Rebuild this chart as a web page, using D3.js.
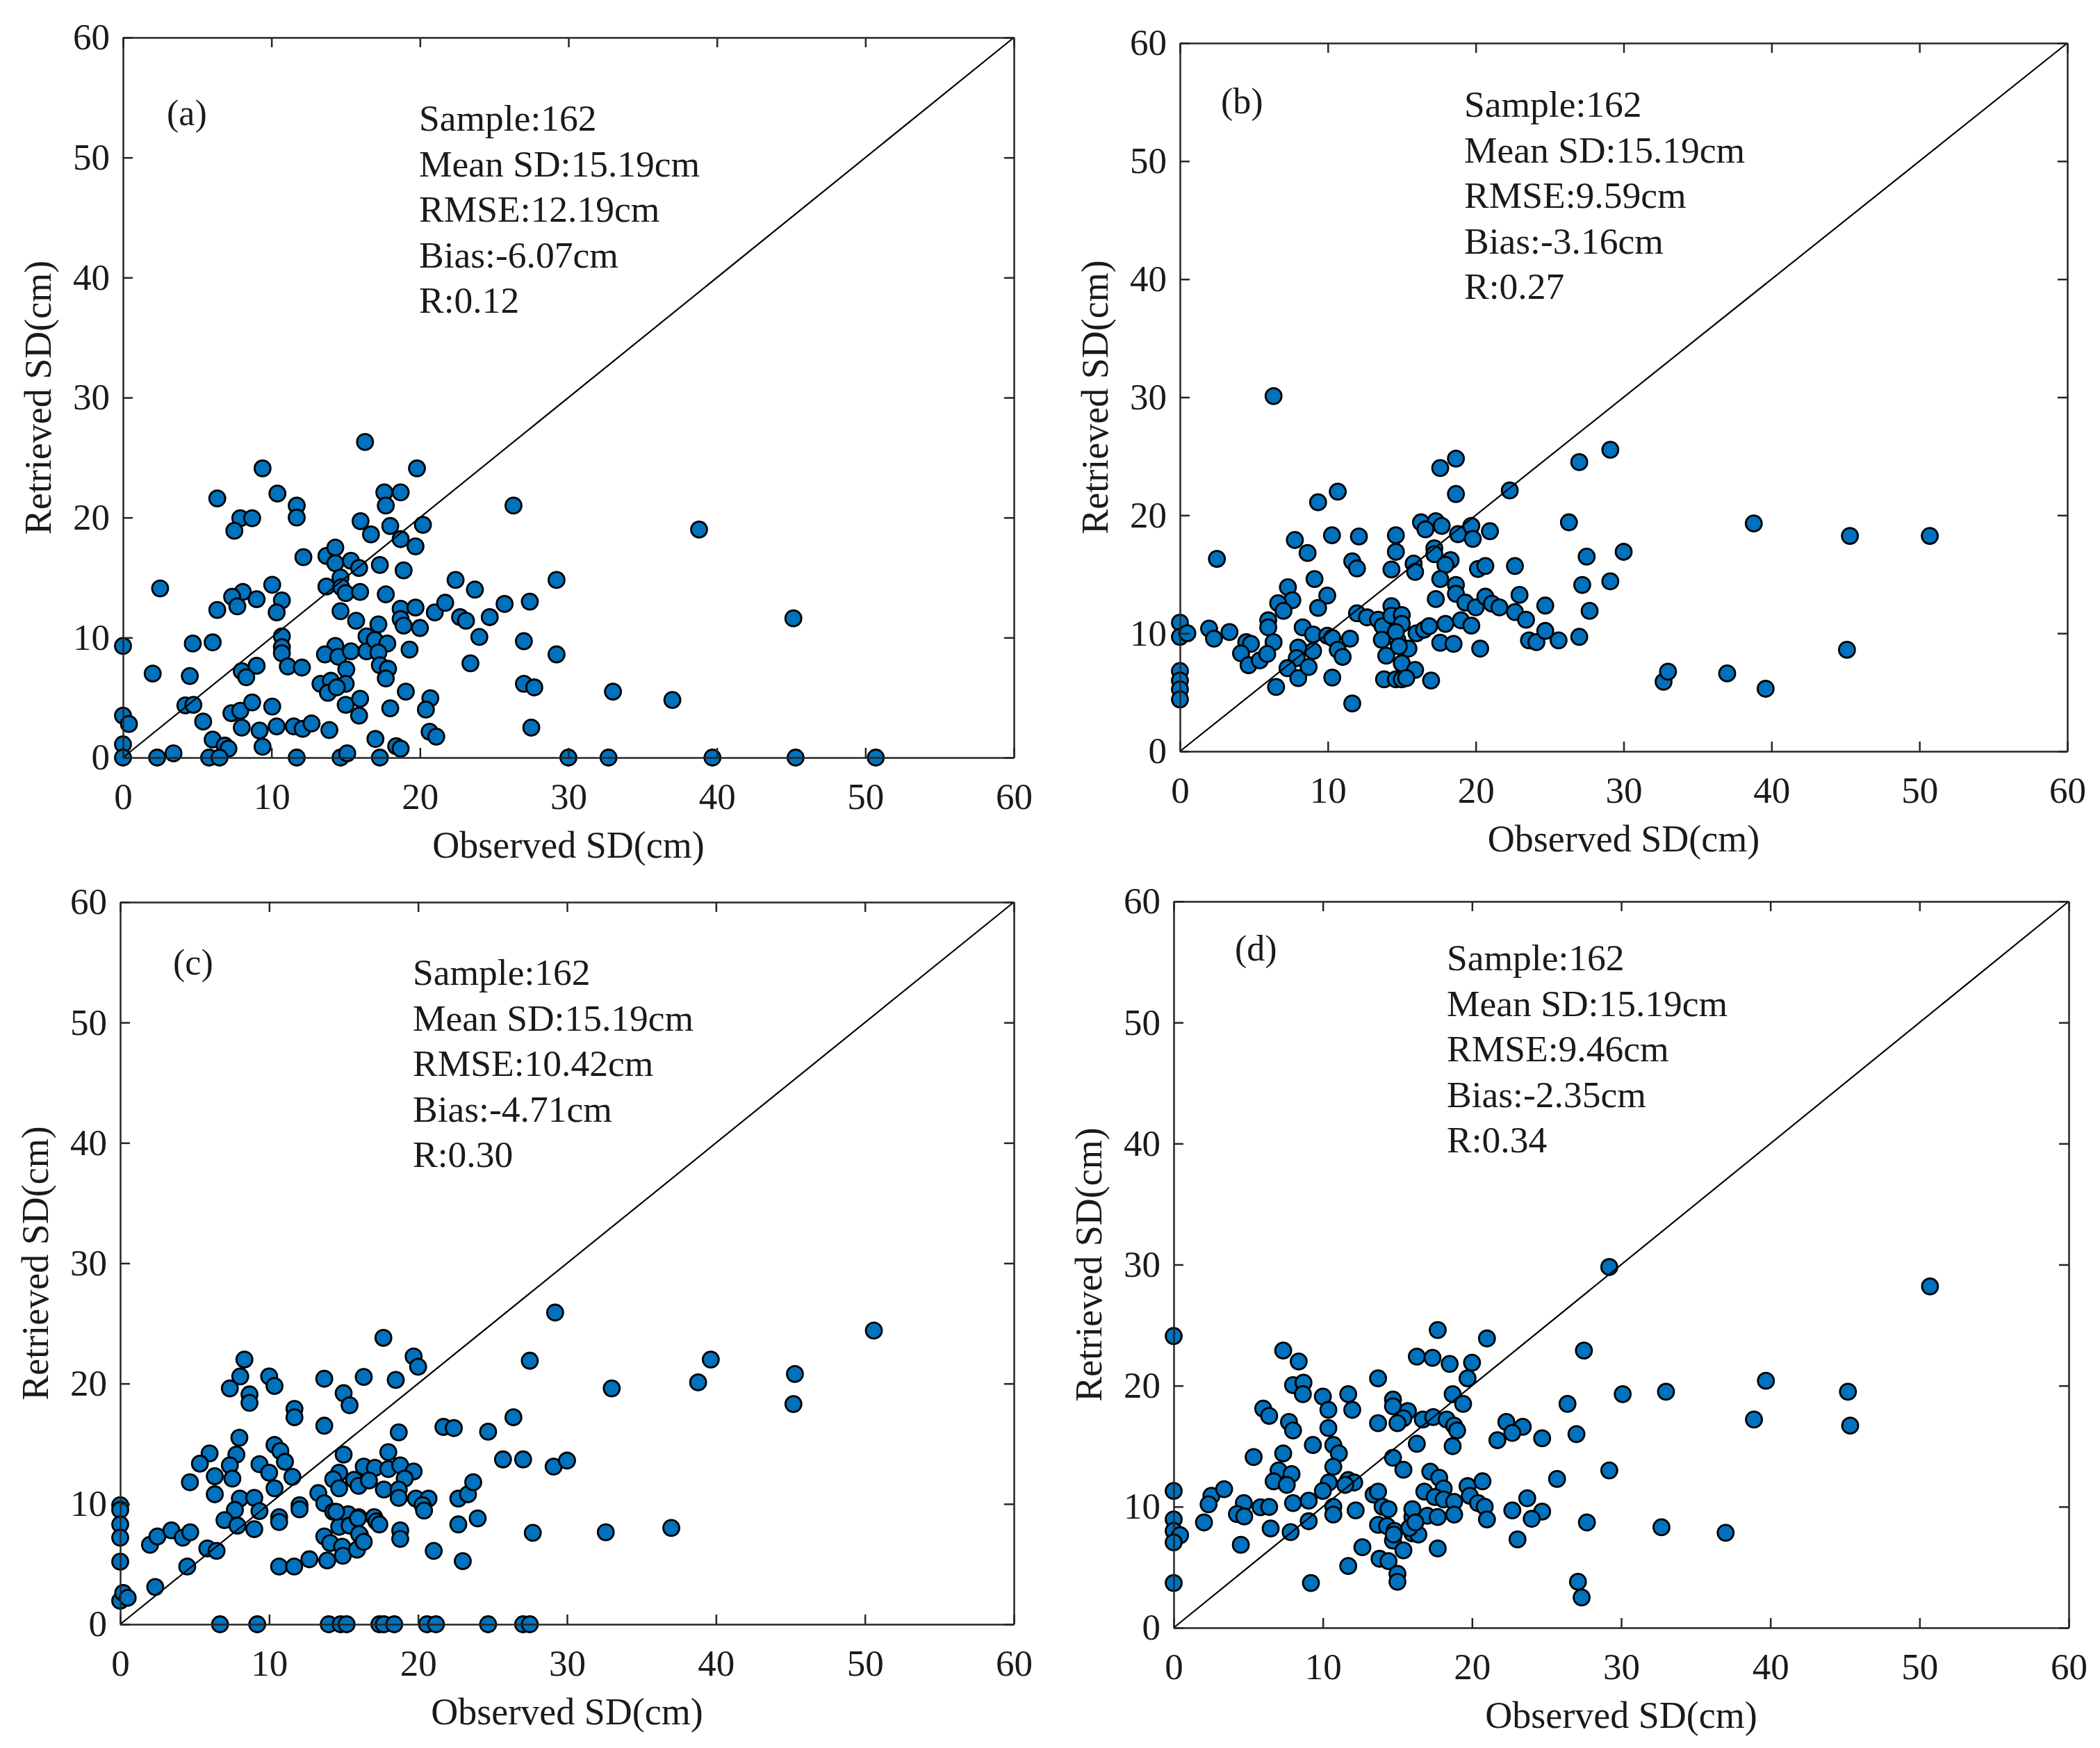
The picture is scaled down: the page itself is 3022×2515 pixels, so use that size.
<!DOCTYPE html>
<html>
<head>
<meta charset="utf-8">
<title>Observed vs retrieved snow depth</title>
<script src="https://cdn.jsdelivr.net/npm/d3@7"></script>
<style>
  body { margin: 0; background: #fff; }
  svg { display: block; }
  text { font-family: "Liberation Serif", "Times New Roman", serif; fill: #1a1a1a; }
</style>
</head>
<body>
<svg id="chart" width="3022" height="2515"></svg>
<script>
// ---- data ----
const axisTicks = [0, 10, 20, 30, 40, 50, 60];
const xTitle = 'Observed SD(cm)';
const yTitle = 'Retrieved SD(cm)';
const panelLabels = ['(a)', '(b)', '(c)', '(d)'];

const statsA = ['Sample:162', 'Mean SD:15.19cm', 'RMSE:12.19cm', 'Bias:-6.07cm', 'R:0.12'];
const statsB = ['Sample:162', 'Mean SD:15.19cm', 'RMSE:9.59cm', 'Bias:-3.16cm', 'R:0.27'];
const statsC = ['Sample:162', 'Mean SD:15.19cm', 'RMSE:10.42cm', 'Bias:-4.71cm', 'R:0.30'];
const statsD = ['Sample:162', 'Mean SD:15.19cm', 'RMSE:9.46cm', 'Bias:-2.35cm', 'R:0.34'];

// [observed, retrieved] pairs
const pointsA = [
  [16.3,26.3],[9.4,24.1],[10.4,22.0],[6.35,21.6],[11.7,21.0],[11.7,20.0],[7.9,19.95],[8.7,19.95],[7.5,18.9],[16.0,19.7],
  [16.7,18.6],[12.15,16.7],[13.7,16.8],[14.3,17.5],[14.3,16.2],[15.35,16.4],[15.9,15.8],[2.5,14.1],[10.05,14.4],[8.07,13.8],
  [7.35,13.4],[9.0,13.2],[7.7,12.6],[10.7,13.1],[10.35,12.1],[6.35,12.3],[13.7,14.25],[14.65,15.0],[14.7,14.2],[15.0,13.7],
  [15.97,13.8],[14.65,12.2],[15.7,11.4],[0,9.3],[4.7,9.5],[6.04,9.6],[10.7,10.1],[10.7,9.2],[10.7,8.7],[11.1,7.6],
  [12.05,7.5],[14.3,9.3],[13.6,8.6],[14.5,8.4],[15.35,8.85],[16.4,10.1],[16.4,8.85],[15.04,7.35],[13.3,6.15],[14.0,6.4],
  [13.8,5.4],[15.0,6.15],[14.4,5.85],[15.0,4.4],[15.97,4.9],[15.9,3.5],[2.0,7.0],[4.5,6.8],[8.0,7.2],[9.0,7.65],
  [8.3,6.7],[4.2,4.35],[4.74,4.4],[5.4,3.0],[0,3.5],[0.4,2.8],[0,1.1],[0,0],[7.3,3.7],[7.9,3.9],
  [8.7,4.6],[10.05,4.25],[8.0,2.5],[9.2,2.25],[10.35,2.6],[11.5,2.6],[12.1,2.4],[12.7,2.85],[13.9,2.3],[6.04,1.5],
  [6.85,1.0],[7.1,0.75],[9.4,0.9],[2.3,0],[3.4,0.35],[5.8,0],[6.5,0],[11.7,0],[14.65,0],[15.1,0.35],
  [19.8,24.1],[17.6,22.1],[18.7,22.1],[17.7,21.0],[20.2,19.4],[18.0,19.3],[18.7,18.2],[19.7,17.6],[26.3,21.0],[17.3,16.05],
  [18.9,15.6],[22.4,14.8],[23.7,14.0],[29.2,14.8],[17.7,13.6],[18.7,12.4],[18.7,11.55],[18.9,11.0],[19.7,12.5],[21.0,12.1],
  [21.7,12.9],[22.7,11.7],[23.1,11.4],[24.7,11.7],[25.7,12.8],[27.4,13.0],[17.2,11.1],[16.96,9.8],[17.8,9.5],[17.2,8.75],
  [17.3,7.7],[17.85,7.4],[17.7,6.6],[19.3,9.0],[20.0,10.8],[24.0,10.05],[27.0,9.7],[29.2,8.6],[23.4,7.85],[19.05,5.5],
  [20.7,4.95],[20.4,4.0],[18.0,4.1],[27.0,6.15],[27.7,5.85],[27.5,2.5],[17.0,1.55],[18.4,0.95],[18.7,0.75],[20.65,2.15],
  [21.1,1.75],[17.3,0],[30.0,0],
  [38.8,19.0],[45.15,11.6],[33.0,5.5],[37.0,4.8],[32.7,0],[39.7,0],[45.3,0],[50.7,0]
];

const pointsB = [
  [6.33,30.1],[10.67,22.0],[9.34,21.1],[7.77,17.9],[10.28,18.3],[12.1,18.2],[8.63,16.8],[2.5,16.3],[11.65,16.1],[11.97,15.5],
  [14.6,18.3],[14.6,16.9],[14.3,15.4],[15.8,15.9],[15.9,15.2],[16.3,19.4],[9.1,14.6],[7.3,13.9],[7.6,12.8],[6.64,12.55],
  [7.0,11.9],[9.96,13.2],[9.34,12.15],[11.97,11.7],[14.3,12.3],[14.3,11.4],[5.97,11.1],[5.97,10.5],[6.33,9.25],[0,10.9],
  [0,9.7],[0.5,10.0],[1.97,10.4],[2.3,9.55],[3.35,10.1],[4.48,9.25],[4.8,9.1],[4.13,8.3],[4.64,7.3],[5.4,7.7],
  [5.9,8.25],[8.3,10.5],[9.0,9.9],[9.0,8.5],[8.0,8.8],[7.9,7.9],[7.27,7.05],[8.0,6.2],[8.7,7.15],[6.5,5.45],
  [9.96,9.8],[10.3,9.6],[11.5,9.55],[10.67,8.6],[11.0,8.0],[10.3,6.25],[11.65,4.05],[0,6.8],[0,6.0],[0,5.25],
  [0,4.4],[12.65,11.35],[13.4,11.15],[13.7,10.6],[14.3,11.5],[15.0,11.55],[15.0,10.8],[13.65,9.45],[14.7,9.45],[13.95,8.1],
  [15.45,8.7],[16.0,10.0],[15.0,7.45],[15.9,6.9],[13.8,6.1],[14.6,6.1],[15.0,6.1],[15.3,6.2],[14.6,10.1],[14.8,8.9],
  [18.66,24.8],[17.6,24.0],[18.66,21.8],[22.3,22.1],[29.1,25.55],[27.0,24.5],[17.3,19.5],[17.7,19.1],[16.6,18.8],[18.8,18.4],
  [19.7,19.1],[19.8,18.0],[20.96,18.65],[26.3,19.4],[17.2,17.2],[17.2,16.7],[18.3,16.2],[17.95,15.8],[20.15,15.45],[20.65,15.7],
  [22.65,15.7],[27.5,16.5],[30.0,16.9],[17.6,14.6],[18.66,14.1],[18.66,13.35],[17.3,12.9],[19.3,12.6],[20.0,12.2],[20.65,13.1],
  [21.1,12.5],[21.6,12.2],[22.65,11.8],[22.96,13.25],[23.4,11.15],[24.7,12.35],[27.2,14.1],[29.1,14.4],[27.7,11.9],[16.5,10.3],
  [16.85,10.6],[17.95,10.8],[19.0,11.1],[19.7,10.65],[17.6,9.2],[18.5,9.1],[20.3,8.7],[23.6,9.4],[24.1,9.25],[24.7,10.2],
  [25.6,9.4],[27.0,9.7],[16.98,6.0],
  [38.8,19.3],[45.3,18.25],[50.7,18.25],[45.1,8.6],[32.7,5.9],[33.0,6.75],[37.0,6.6],[39.6,5.3]
];

const pointsC = [
  [8.34,22.0],[8.06,20.6],[7.36,19.6],[8.68,19.1],[8.68,18.4],[10.0,20.6],[10.36,19.8],[13.7,20.4],[15.0,19.2],[15.4,18.2],
  [16.35,20.55],[11.7,17.9],[11.7,17.2],[13.7,16.5],[8.0,15.5],[6.0,14.2],[5.35,13.35],[7.8,14.1],[7.36,13.2],[6.35,12.3],
  [7.53,12.1],[4.68,11.8],[6.35,10.8],[10.36,14.9],[10.75,14.4],[11.06,13.5],[9.35,13.3],[10.0,12.6],[11.56,12.25],[10.36,11.3],
  [15.0,14.1],[14.7,12.6],[14.3,12.05],[14.7,11.3],[15.7,12.0],[16.0,11.5],[16.4,13.0],[13.3,10.9],[13.7,10.05],[14.3,9.35],
  [15.3,9.15],[16.0,8.9],[14.7,8.1],[15.4,8.2],[13.7,7.3],[14.1,6.75],[14.9,6.45],[14.95,5.7],[15.9,6.2],[16.1,7.4],
  [12.7,5.4],[13.9,5.3],[10.67,4.8],[11.68,4.8],[12.04,9.9],[12.04,9.55],[10.67,8.9],[10.67,8.5],[8.03,10.45],[9.0,10.5],
  [9.35,9.4],[7.7,9.5],[7.0,8.65],[7.87,8.2],[9.0,7.9],[0,9.9],[0,9.5],[0,8.3],[0,7.2],[0,5.2],
  [0,1.95],[0.2,2.6],[0.5,2.2],[2.0,6.6],[2.5,7.3],[3.44,7.8],[4.2,7.2],[4.7,7.65],[2.35,3.1],[4.5,4.8],
  [5.85,6.3],[6.47,6.1],[6.7,0],[9.2,0],[14.0,0],[14.8,0],[15.2,0],
  [17.67,23.8],[19.7,22.25],[20.0,21.4],[18.5,20.3],[29.2,25.9],[27.5,21.9],[18.7,15.95],[21.7,16.4],[22.4,16.3],[24.7,16.0],
  [26.4,17.2],[18.0,14.3],[16.35,13.1],[17.1,13.0],[18.0,12.9],[18.8,13.2],[19.7,12.7],[19.1,12.1],[16.7,11.95],[17.7,11.2],
  [18.7,11.2],[18.7,10.5],[19.85,10.45],[20.7,10.45],[20.3,9.9],[20.4,9.45],[22.7,10.45],[23.35,10.8],[23.7,11.8],[25.7,13.7],
  [27.05,13.7],[29.1,13.1],[30.0,13.6],[14.5,9.35],[15.96,8.8],[17.05,8.9],[17.2,8.55],[17.4,8.3],[16.04,7.5],[16.35,6.85],
  [18.8,7.8],[18.8,7.1],[22.7,8.3],[24.0,8.8],[27.7,7.6],[21.05,6.1],[23.0,5.25],[17.4,0],[17.7,0],[18.4,0],
  [20.6,0],[21.2,0],[24.7,0],[27.05,0],[27.5,0],
  [50.6,24.4],[45.3,20.8],[45.2,18.3],[39.65,22.0],[38.8,20.1],[33.0,19.6],[32.6,7.65],[37.0,8.0]
];

const pointsD = [
  [0,24.1],[7.34,22.9],[8.38,22.0],[13.7,20.6],[16.3,22.4],[8.0,20.05],[8.7,20.25],[8.66,19.3],[10.0,19.1],[10.37,18.0],
  [11.7,19.3],[11.97,18.0],[6.0,18.1],[6.4,17.5],[7.73,17.0],[8.0,16.3],[10.37,16.5],[14.7,18.85],[14.7,18.3],[15.7,17.9],
  [15.4,17.3],[15.0,16.9],[13.7,16.9],[9.33,15.1],[10.7,15.1],[11.07,14.4],[10.7,13.3],[5.36,14.1],[7.34,14.4],[7.03,13.0],
  [7.9,12.7],[6.7,12.1],[7.58,11.8],[10.4,12.0],[10.0,11.3],[11.7,12.2],[12.1,12.0],[11.5,11.8],[14.7,14.05],[15.4,13.05],
  [16.3,15.2],[0,11.3],[2.53,10.9],[2.34,10.2],[3.38,11.45],[2.03,8.7],[4.7,10.3],[4.24,9.4],[4.73,9.2],[5.82,9.95],
  [6.4,9.98],[6.5,8.2],[8.0,10.3],[9.05,10.5],[10.7,10.0],[10.7,9.35],[12.2,9.7],[9.05,8.8],[7.84,7.9],[4.5,6.85],
  [0,8.95],[0,8.0],[0.43,7.65],[0,7.05],[0,3.7],[9.2,3.7],[13.4,11.0],[13.7,11.25],[14.0,10.0],[14.4,9.8],
  [13.7,8.5],[14.3,8.4],[14.8,8.0],[14.7,7.2],[15.4,6.4],[16.0,9.15],[16.0,7.8],[12.65,6.65],[11.7,5.1],[13.8,5.7],
  [14.4,5.5],[15.0,4.45],[15.0,3.8],
  [29.2,29.8],[17.7,24.6],[21.0,23.9],[27.5,22.9],[17.35,22.3],[18.5,21.8],[20.0,21.9],[19.7,20.6],[18.7,19.3],[19.4,18.5],
  [16.7,17.2],[17.4,17.4],[18.3,17.2],[18.8,16.7],[19.0,16.3],[18.7,15.0],[30.1,19.3],[26.4,18.5],[22.3,17.0],[23.4,16.6],
  [22.7,16.1],[21.7,15.5],[24.7,15.65],[27.0,16.0],[29.2,13.0],[17.2,12.9],[17.8,12.4],[18.1,11.5],[16.8,11.25],[17.5,10.8],
  [18.1,10.6],[18.8,10.4],[19.7,11.7],[20.7,12.1],[19.85,10.9],[20.4,10.3],[20.85,10.0],[21.0,8.95],[22.7,9.7],[23.7,10.7],
  [24.7,9.6],[24.0,9.0],[25.7,12.3],[27.7,8.7],[23.05,7.3],[16.0,9.8],[17.0,9.25],[17.7,9.15],[18.8,9.35],[14.75,7.7],
  [16.4,7.7],[17.7,6.55],[27.1,3.8],[27.35,2.5],[15.8,8.25],[16.2,8.7],
  [50.7,28.2],[39.7,20.4],[38.9,17.2],[45.2,19.5],[45.35,16.7],[33.0,19.5],[32.7,8.3],[37.0,7.85]
];

// ---- layout (pixel boxes of the four axes, text offsets inside them) ----
const panels = [
  {points: pointsA, stats: statsA, label: panelLabels[0], left: 177,  top: 54,   width: 1282, height: 1036, statX: 426, statY: 116, labX: 63, labY: 108},
  {points: pointsB, stats: statsB, label: panelLabels[1], left: 1698, top: 62,   width: 1277, height: 1019, statX: 409, statY: 88,  labX: 59, labY: 83},
  {points: pointsC, stats: statsC, label: panelLabels[2], left: 173,  top: 1298, width: 1286, height: 1039, statX: 421, statY: 101, labX: 76, labY: 86},
  {points: pointsD, stats: statsD, label: panelLabels[3], left: 1689, top: 1297, width: 1288, height: 1045, statX: 393, statY: 81,  labX: 88, labY: 67}
];

const svg = d3.select('#chart');
svg.append('rect').attr('width', 3022).attr('height', 2515).attr('fill', '#fff');

function drawPanel(p) {
  const x = d3.scaleLinear().domain([0, 60]).range([p.left, p.left + p.width]);
  const y = d3.scaleLinear().domain([0, 60]).range([p.top + p.height, p.top]);
  const g = svg.append('g').attr('class', 'panel');

  // points under the 1:1 line
  g.append('g')
    .selectAll('circle')
    .data(p.points)
    .enter()
    .append('circle')
    .attr('cx', d => x(d[0]))
    .attr('cy', d => y(d[1]))
    .attr('r', 11.5)
    .attr('fill', '#0072BD')
    .attr('stroke', '#000')
    .attr('stroke-width', 2.8);

  g.append('line')
    .attr('x1', x(0)).attr('y1', y(0))
    .attr('x2', x(60)).attr('y2', y(60))
    .attr('stroke', '#000')
    .attr('stroke-width', 2.2);

  // box with inward ticks on all sides
  const tick = -14;
  const bottom = g.append('g').attr('transform', `translate(0,${y(0)})`)
    .call(d3.axisBottom(x).tickValues(axisTicks).tickSizeInner(tick).tickSizeOuter(0).tickPadding(36));
  const left = g.append('g').attr('transform', `translate(${x(0)},0)`)
    .call(d3.axisLeft(y).tickValues(axisTicks).tickSizeInner(tick).tickSizeOuter(0).tickPadding(19));
  g.append('g').attr('transform', `translate(0,${y(60)})`)
    .call(d3.axisTop(x).tickValues(axisTicks).tickSizeInner(tick).tickSizeOuter(0).tickFormat(''));
  g.append('g').attr('transform', `translate(${x(60)},0)`)
    .call(d3.axisRight(y).tickValues(axisTicks).tickSizeInner(tick).tickSizeOuter(0).tickFormat(''));

  g.selectAll('.domain, .tick line').attr('stroke', '#262626').attr('stroke-width', 2.5);
  [bottom, left].forEach(a => a.selectAll('text')
    .attr('font-size', 53)
    .attr('font-family', '"Liberation Serif", "Times New Roman", serif')
    .attr('fill', '#1a1a1a'));

  // axis titles
  g.append('text')
    .attr('x', (x(0) + x(60)) / 2)
    .attr('y', y(0) + 126)
    .attr('text-anchor', 'middle')
    .attr('dominant-baseline', 'central')
    .attr('font-size', 54)
    .text(xTitle);
  const cy = (y(0) + y(60)) / 2;
  g.append('text')
    .attr('transform', `translate(${x(0) - 122},${cy}) rotate(-90)`)
    .attr('text-anchor', 'middle')
    .attr('dominant-baseline', 'central')
    .attr('font-size', 54)
    .text(yTitle);

  // panel tag and statistics
  g.append('text')
    .attr('x', p.left + p.labX)
    .attr('y', p.top + p.labY)
    .attr('dominant-baseline', 'central')
    .attr('font-size', 52)
    .text(p.label);
  g.append('g')
    .selectAll('text')
    .data(p.stats)
    .enter()
    .append('text')
    .attr('x', p.left + p.statX)
    .attr('y', (d, i) => p.top + p.statY + i * 65.5)
    .attr('dominant-baseline', 'central')
    .attr('font-size', 53.5)
    .text(d => d);
}

panels.forEach(drawPanel);
</script>
</body>
</html>
